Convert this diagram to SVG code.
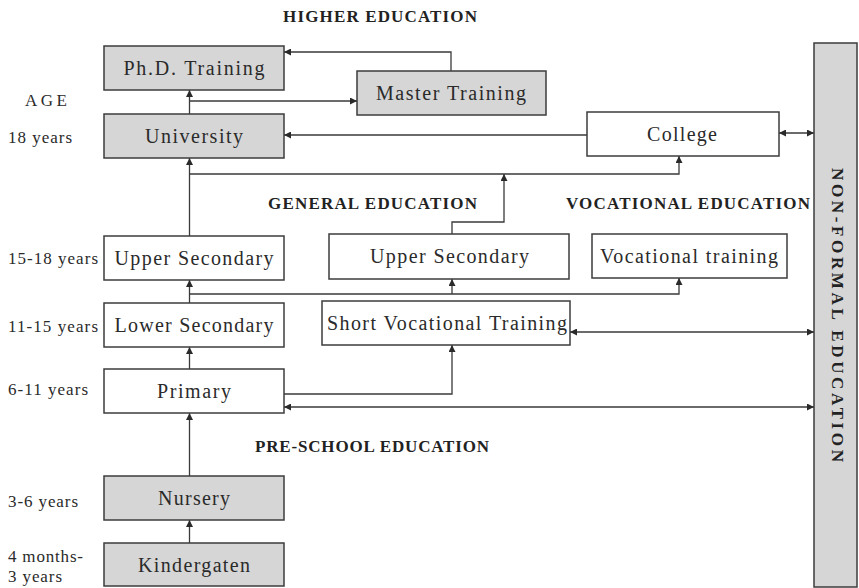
<svg xmlns="http://www.w3.org/2000/svg" width="859" height="588" viewBox="0 0 859 588">
<style>
  .box { stroke: #3c3c3c; stroke-width: 1.5; }
  .g { fill: #d6d6d6; }
  .w { fill: #ffffff; }
  .lbl { font-family: "Liberation Serif", "Times New Roman", serif; font-size: 20px; fill: #2a2a2a; text-anchor: middle; }
  .age { font-family: "Liberation Serif", "Times New Roman", serif; font-size: 17px; fill: #2a2a2a; }
  .hdr { font-family: "Liberation Serif", "Times New Roman", serif; font-size: 17px; font-weight: bold; fill: #222; }
  .con { fill: none; stroke: #3a3a3a; stroke-width: 1.3; }
  .ar { marker-end: url(#ah); }
  .dbl { marker-start: url(#ah); marker-end: url(#ah); }
</style>
<defs>
  <marker id="ah" viewBox="0 0 8 8" refX="8" refY="4" markerWidth="7" markerHeight="7" markerUnits="userSpaceOnUse" orient="auto-start-reverse">
    <path d="M0,0 L8,4 L0,8 z" fill="#2a2a2a"/>
  </marker>
</defs>
<rect width="859" height="588" fill="#ffffff"/>

<!-- headers and age labels -->
<text class="hdr" x="283" y="22" textLength="194" lengthAdjust="spacing">HIGHER EDUCATION</text>
<text class="hdr" x="268" y="209" textLength="209" lengthAdjust="spacing">GENERAL EDUCATION</text>
<text class="hdr" x="566" y="209" textLength="244" lengthAdjust="spacing">VOCATIONAL EDUCATION</text>
<text class="hdr" x="255" y="452" textLength="234" lengthAdjust="spacing">PRE-SCHOOL EDUCATION</text>

<text class="age" x="25" y="106" textLength="42" lengthAdjust="spacing">AGE</text>
<text class="age" x="8" y="143" textLength="64" lengthAdjust="spacing">18 years</text>
<text class="age" x="8" y="264" textLength="90" lengthAdjust="spacing">15-18 years</text>
<text class="age" x="8" y="332" textLength="90" lengthAdjust="spacing">11-15 years</text>
<text class="age" x="8" y="395" textLength="80" lengthAdjust="spacing">6-11 years</text>
<text class="age" x="8" y="507" textLength="70" lengthAdjust="spacing">3-6 years</text>
<text class="age" x="8" y="562" textLength="75" lengthAdjust="spacing">4 months-</text>
<text class="age" x="8" y="582" textLength="54" lengthAdjust="spacing">3 years</text>

<!-- connectors -->
<g id="connectors">
  <path class="con ar" d="M451,71 V52 H284"/>
  <path class="con ar" d="M189.5,114 V90"/>
  <path class="con ar" d="M189.5,101 H357"/>
  <path class="con ar" d="M587,135 H284"/>
  <path class="con dbl" d="M779,133 H814"/>
  <path class="con ar" d="M189.5,236 V158"/>
  <path class="con ar" d="M189.5,174 H679 V156"/>
  <path class="con ar" d="M452,234 V222 H504 V174"/>
  <path class="con ar" d="M189.5,303 V280"/>
  <path class="con ar" d="M189.5,294 H679 V278"/>
  <path class="con ar" d="M452,294 V279"/>
  <path class="con dbl" d="M570,332 H814"/>
  <path class="con ar" d="M189.5,369 V347"/>
  <path class="con ar" d="M284,394 H452 V345"/>
  <path class="con dbl" d="M284,407 H814"/>
  <path class="con ar" d="M189.5,476 V413"/>
  <path class="con ar" d="M189.5,543 V520"/>
</g>

<g id="phd"><rect class="box g" x="104" y="46" width="180" height="44"/><text class="lbl" x="194" y="75" textLength="141" lengthAdjust="spacing">Ph.D. Training</text></g>
<g id="master"><rect class="box g" x="357" y="71" width="189" height="44"/><text class="lbl" x="451" y="100" textLength="150" lengthAdjust="spacing">Master Training</text></g>
<g id="university"><rect class="box g" x="104" y="114" width="180" height="44"/><text class="lbl" x="194" y="143" textLength="98" lengthAdjust="spacing">University</text></g>
<g id="college"><rect class="box w" x="587" y="112" width="192" height="44"/><text class="lbl" x="682" y="141" textLength="70" lengthAdjust="spacing">College</text></g>
<g id="upper-secondary-1"><rect class="box w" x="104" y="236" width="180" height="44"/><text class="lbl" x="194" y="265" textLength="159" lengthAdjust="spacing">Upper Secondary</text></g>
<g id="upper-secondary-2"><rect class="box w" x="329" y="234" width="240" height="45"/><text class="lbl" x="449.5" y="263" textLength="159" lengthAdjust="spacing">Upper Secondary</text></g>
<g id="vocational-training"><rect class="box w" x="592" y="234" width="195" height="44"/><text class="lbl" x="689" y="263" textLength="178" lengthAdjust="spacing">Vocational training</text></g>
<g id="lower-secondary"><rect class="box w" x="104" y="303" width="180" height="44"/><text class="lbl" x="194" y="332" textLength="159" lengthAdjust="spacing">Lower Secondary</text></g>
<g id="short-vocational"><rect class="box w" x="322" y="301" width="248" height="44"/><text class="lbl" x="447" y="330" textLength="240" lengthAdjust="spacing">Short Vocational Training</text></g>
<g id="primary"><rect class="box w" x="104" y="369" width="180" height="44"/><text class="lbl" x="194" y="398" textLength="74" lengthAdjust="spacing">Primary</text></g>
<g id="nursery"><rect class="box g" x="104" y="476" width="180" height="44"/><text class="lbl" x="194" y="505" textLength="72" lengthAdjust="spacing">Nursery</text></g>
<g id="kindergaten"><rect class="box g" x="104" y="543" width="180" height="43"/><text class="lbl" x="194" y="572" textLength="112" lengthAdjust="spacing">Kindergaten</text></g>
<g id="non-formal"><rect class="box g" x="814" y="43" width="43" height="544"/><text class="hdr" x="0" y="0" font-size="19" text-anchor="middle" transform="translate(832,315) rotate(90)" textLength="294" lengthAdjust="spacing">NON-FORMAL EDUCATION</text></g>
</svg>
